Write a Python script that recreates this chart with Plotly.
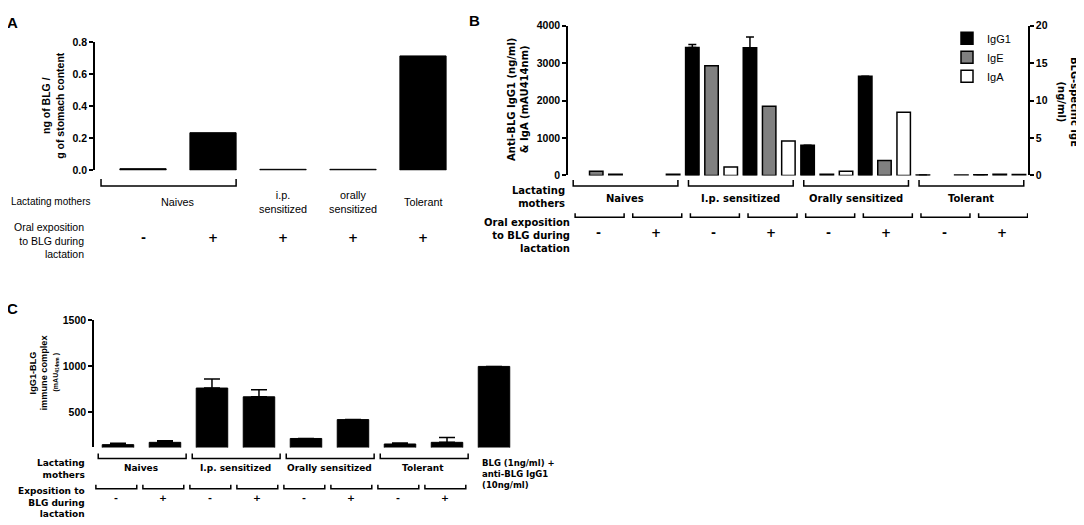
import plotly.graph_objects as go

W, H = 1084, 525
OFF = 8                      # the page body adds an 8 px margin round the figure
FW, FH = W - OFF, H - OFF
ARIAL = "Arial, Liberation Sans, sans-serif"
GOTHIC = "DejaVu Sans, Verdana, sans-serif"

# ---- panel A : BLG found in the stomach of the pups
a_mothers = ["Naives", "Naives", "i.p.<br>sensitized", "orally<br>sensitized", "Tolerant"]
a_expo = ["-", "+", "+", "+", "+"]
a_blg = [0.01, 0.235, 0.006, 0.006, 0.715]

# ---- panel B : BLG-specific antibodies in milk (one value per mother group x exposition)
b_mothers = ["Naives", "I.p. sensitized", "Orally sensitized", "Tolerant"]
b_expo = ["-", "+"]
b_igg1 = [None, None, 3420, 3410, 810, 2650, 15, 20]
b_igg1_err = [0, 0, 80, 290, 0, 0, 0, 0]
b_ige = [0.55, None, 14.65, 9.25, 0.15, 2.0, None, 0.15]
b_iga = [35, 35, 225, 920, 110, 1690, 15, 25]

# ---- panel C : IgG1-BLG immune complexes
c_mothers = ["Naives", "I.p. sensitized", "Orally sensitized", "Tolerant"]
c_expo = ["-", "+"]
c_complex = [150, 175, 765, 670, 217, 422, 157, 175]
c_complex_err = [14, 18, 99, 77, 0, 0, 10, 53]
c_control = 1000
c_control_label = "BLG (1ng/ml) +<br>anti-BLG IgG1<br>(10ng/ml)"


def py(y):
    # pixel row of the page -> paper coordinate
    return 1 - (y - OFF) / FH


def xp(x):
    return (x - OFF) / FW


def txt(text, x, y, xref="paper", size=10, bold=True, family=GOTHIC,
        xanchor="center", align="center", angle=0):
    return dict(text=text, x=x, y=y, xref=xref, yref="paper", showarrow=False,
                xanchor=xanchor, yanchor="middle", align=align, textangle=angle,
                font=dict(family=family, size=size, color="black",
                          weight="bold" if bold else "normal"))


def bracket(xref, x0, x1, ytip, ybase):
    return dict(type="path", xref=xref, yref="paper",
                path=f"M{x0},{py(ytip)} L{x0},{py(ybase)} L{x1},{py(ybase)} L{x1},{py(ytip)}",
                line=dict(color="black", width=1.5))


fig = go.Figure()
ann = []
shapes = []

# ---------------- A
fig.add_trace(go.Bar(x=list(range(len(a_blg))), y=a_blg, width=0.66,
                     marker=dict(color="black", line=dict(color="black", width=1)),
                     xaxis="x", yaxis="y", showlegend=False))

ann.append(txt("A", xp(12.5), py(17), size=15, family=ARIAL))
ann.append(txt("ng of BLG /<br>g of stomach content", xp(53), py(102), size=10.5,
               family=ARIAL, angle=-90))
ann.append(txt("Lactating mothers", xp(9), py(200), size=10, bold=False, family=ARIAL,
               xanchor="left"))
ann.append(txt("Oral exposition<br>to BLG during<br>lactation", xp(86), py(240), size=10.5,
               bold=False, family=ARIAL, xanchor="right", align="right"))
i = 0
while i < len(a_mothers):
    j = i
    while j + 1 < len(a_mothers) and a_mothers[j + 1] == a_mothers[i]:
        j += 1
    ann.append(txt(a_mothers[i], (i + j) / 2, py(200), xref="x", size=10.8, bold=False,
                   family=ARIAL))
    if j > i:
        shapes.append(bracket("x", i - 0.6, j + 0.33, 177, 184))
    i = j + 1
for k, s in enumerate(a_expo):
    ann.append(txt(s, k, py(237), xref="x", size=12))

# ---------------- B
nb = len(b_mothers) * len(b_expo)
bar_line = dict(color="black", width=1.5)
fig.add_trace(go.Bar(name="IgG1", x=[3 * j for j in range(nb)], y=b_igg1, width=0.7,
                     marker=dict(color="black", line=bar_line),
                     error_y=dict(type="data", symmetric=False, array=b_igg1_err,
                                  arrayminus=[0] * nb, color="black", thickness=1.5, width=4),
                     xaxis="x2", yaxis="y2"))
fig.add_trace(go.Bar(name="IgE", x=[3 * j + 1 for j in range(nb)], y=b_ige, width=0.7,
                     marker=dict(color="#808080", line=bar_line),
                     xaxis="x2", yaxis="y3"))
fig.add_trace(go.Bar(name="IgA", x=[3 * j + 2 for j in range(nb)], y=b_iga, width=0.7,
                     marker=dict(color="white", line=bar_line),
                     xaxis="x2", yaxis="y2"))

ann.append(txt("B", xp(474), py(15), size=15, family=ARIAL))
ann.append(txt("Anti-BLG IgG1 (ng/ml)<br>& IgA (mAU414nm)", xp(518), py(96), size=10, angle=-90))
ann.append(txt("BLG-specific IgE<br>(ng/ml)", xp(1068), py(98), size=10, angle=90))
ann.append(txt("Lactating<br>mothers", xp(567), py(195), size=10, xanchor="right", align="right"))
ann.append(txt("Oral exposition<br>to BLG during<br>lactation", xp(572), py(235), size=10,
               xanchor="right", align="right"))
for k, m in enumerate(b_mothers):
    shapes.append(bracket("x2", 6 * k - 0.2, 6 * k + 5.25, 178, 184))
    ann.append(txt(m, 6 * k + 2.5, py(197), xref="x2", size=10))
for j in range(nb):
    shapes.append(bracket("x2", 3 * j - 0.1, 3 * j + 2.45, 212, 216))
    ann.append(txt(b_expo[j % 2], 3 * j + 1.1, py(232), xref="x2", size=12))

# ---------------- C
nc = len(c_complex)
fig.add_trace(go.Bar(x=list(range(nc + 1)), y=c_complex + [c_control], width=0.67,
                     marker=dict(color="black", line=dict(color="black", width=1)),
                     error_y=dict(type="data", symmetric=False, array=c_complex_err + [0],
                                  arrayminus=[0] * (nc + 1), color="black", thickness=1.5, width=8),
                     xaxis="x3", yaxis="y4", showlegend=False))

ann.append(txt("C", xp(12.5), py(310), size=15, family=ARIAL))
ann.append(txt("IgG1-BLG<br>immune complex", xp(39), py(375), size=9.2, family=ARIAL, angle=-90))
ann.append(txt("(mAU<sub>414nm</sub> )", xp(56), py(375), size=7, family=ARIAL, angle=-90))
ann.append(txt("Lactating<br>mothers", xp(87), py(474), size=9, xanchor="right", align="right"))
ann.append(txt("Exposition to<br>BLG during<br>lactation", xp(87), py(508), size=9,
               xanchor="right", align="right"))
for k, m in enumerate(c_mothers):
    shapes.append(bracket("x3", 2 * k - 0.42, 2 * k + 1.45, 458, 463))
    ann.append(txt(m, 2 * k + 0.5, py(473), xref="x3", size=9))
for j in range(nc):
    shapes.append(bracket("x3", j - 0.47, j + 0.4, 490, 494))
    ann.append(txt(c_expo[j % 2], j - 0.05, py(503), xref="x3", size=9.5))
ann.append(txt(c_control_label, xp(480), py(479), size=8.5, xanchor="left", align="left"))

# ---------------- axes
tickfont = dict(family=ARIAL, size=10.5, color="black", weight="bold")
yax = dict(showline=True, linecolor="black", linewidth=1.5, ticks="outside", ticklen=4,
           tickwidth=1.5, tickcolor="black", showgrid=False, zeroline=False, tickfont=tickfont)
xax = dict(visible=False, showgrid=False, zeroline=False)

fig.update_layout(
    width=FW, height=FH,
    margin=dict(l=0, r=0, t=0, b=0),
    paper_bgcolor="white", plot_bgcolor="white",
    barmode="overlay",
    xaxis=dict(domain=[xp(95), xp(458)], range=[-0.686, 4.5], **xax),
    yaxis=dict(domain=[py(168), py(37)], range=[0, 0.8], dtick=0.2, tickformat=".1f",
               anchor="x", **yax),
    xaxis2=dict(domain=[xp(568), xp(1028)], range=[-0.47, 23.47], anchor="y2", **xax),
    yaxis2=dict(domain=[py(173.3), py(20)], range=[0, 4000], dtick=1000, anchor="x2", **yax),
    yaxis3=dict(range=[0, 20], dtick=5, overlaying="y2", side="right", anchor="x2", **yax),
    xaxis3=dict(domain=[xp(94), xp(517.5)], range=[-0.51, 8.5], anchor="y4", **xax),
    yaxis4=dict(domain=[py(451.7), py(321.7)], range=[120, 1500], tickvals=[500, 1000, 1500],
                anchor="x3", **yax),
    legend=dict(x=xp(947), y=py(18), xanchor="left", yanchor="top",
                font=dict(family=ARIAL, size=11, color="black"), bgcolor="rgba(0,0,0,0)",
                traceorder="normal", tracegroupgap=0),
    annotations=ann,
    shapes=shapes,
)

fig.write_html("out.html")
